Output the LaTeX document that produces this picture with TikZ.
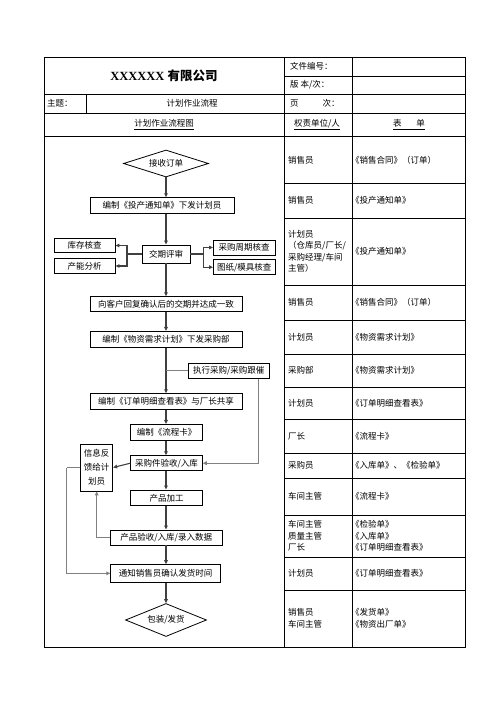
\documentclass[tikz,border=0pt]{standalone}
\usepackage{fontspec}
\setmainfont{Liberation Serif}
\newfontfamily\cjk{Noto Sans CJK SC}
\usetikzlibrary{shapes.geometric,arrows.meta}
\begin{document}
\begin{tikzpicture}[x=1pt,y=-1pt,
  tbl/.style={line width=0.9pt, draw=black},
  txt/.style={inner sep=0pt, font=\cjk\fontsize{8.5}{11.5}\selectfont, align=left},
  cell/.style={txt, anchor=west},
  fbox/.style={draw, line width=0.9pt, inner sep=0pt, font=\cjk\fontsize{8.5}{11}\selectfont, align=center},
  fdia/.style={draw, diamond, aspect=3, line width=0.8pt, inner sep=0pt, font=\cjk\fontsize{8.5}{11}\selectfont},
  tip/.style={-{Triangle[length=4pt,width=3.6pt]}},
  fline/.style={line width=1.1pt, draw=black!75},
  flow/.style={fline, tip},
  gline/.style={line width=1pt, draw=black!50},
  gflow/.style={gline, tip},
]
\fill[white] (0,0) rectangle (496,702);
\useasboundingbox (0,0) rectangle (496,702);

% ---- table frame ----
\draw[tbl] (44,57) rectangle (465,647);
\draw[tbl] (284,57) -- (284,647);
\draw[tbl] (352,57) -- (352,647);
\draw[tbl] (284,76) -- (465,76);
\foreach \yy in {94,113,136} \draw[tbl] (44,\yy) -- (465,\yy);
\draw[tbl] (86,94) -- (86,113);
\foreach \yy in {183,218,285,320,354,387,419,453,478,515,557,590} \draw[tbl] (284,\yy) -- (465,\yy);

% ---- header texts ----
\node[inner sep=0pt, font=\fontsize{12.5}{14}\selectfont] (title) at (164,75.5) {\textbf{XXXXXX} {\cjk\bfseries 有限公司}};
\node[cell] (h1) at (290,66.5) {文件编号：};
\node[cell] (h2) at (290,85) {版 本/次：};
\node[cell] (h3) at (290,103.5) {页\hspace{24pt}次：};
\node[cell] (h4) at (47,103.5) {主题：};
\node[txt] (h5) at (192,103.5) {计划作业流程};
\node[txt] (h6) at (164,124.5) {\underline{计划作业流程图}};
\node[txt] (h7) at (317,124.5) {\underline{权责单位/人}};
\node[txt] (h8) at (409,124.5) {\underline{表\hspace{15pt}单}};

% ---- right columns ----
\node[cell] (r1a) at (288,160) {销售员};
\node[cell] (r1b) at (351,160) {《销售合同》（订单）};
\node[cell] (r2a) at (288,200.5) {销售员};
\node[cell] (r2b) at (351,200.5) {《投产通知单》};
\node[cell] (r3a) at (288,251.5) {计划员\\（仓库员/厂长/\\采购经理/车间\\主管）};
\node[cell] (r3b) at (351,251.5) {《投产通知单》};
\node[cell] (r4a) at (288,302.5) {销售员};
\node[cell] (r4b) at (351,302.5) {《销售合同》（订单）};
\node[cell] (r5a) at (288,337) {计划员};
\node[cell] (r5b) at (351,337) {《物资需求计划》};
\node[cell] (r6a) at (288,370.5) {采购部};
\node[cell] (r6b) at (351,370.5) {《物资需求计划》};
\node[cell] (r7a) at (288,403) {计划员};
\node[cell] (r7b) at (351,403) {《订单明细查看表》};
\node[cell] (r8a) at (288,436) {厂长};
\node[cell] (r8b) at (351,436) {《流程卡》};
\node[cell] (r9a) at (288,465.5) {采购员};
\node[cell] (r9b) at (351,465.5) {《入库单》、《检验单》};
\node[cell] (r10a) at (288,496.5) {车间主管};
\node[cell] (r10b) at (351,496.5) {《流程卡》};
\node[cell] (r11a) at (288,536) {车间主管\\质量主管\\厂长};
\node[cell] (r11b) at (351,536) {《检验单》\\《入库单》\\《订单明细查看表》};
\node[cell] (r12a) at (288,573.5) {计划员};
\node[cell] (r12b) at (351,573.5) {《订单明细查看表》};
\node[cell] (r13a) at (288,618.5) {销售员\\车间主管};
\node[cell] (r13b) at (351,618.5) {《发货单》\\《物资出厂单》};

% ---- flowchart nodes ----
\node[fdia, minimum width=85pt, minimum height=27pt] (d1) at (166,163.5) {接收订单};
\node[fbox, minimum width=144pt, minimum height=15.6pt] (b1) at (162,205.5) {编制《投产通知单》下发计划员};
\node[fbox, minimum width=48pt, minimum height=18pt] (jq) at (166,254) {交期评审};
\node[fbox, minimum width=61pt, minimum height=14.5pt] (kc) at (84.5,245.5) {库存核查};
\node[fbox, minimum width=61pt, minimum height=14.5pt] (cn) at (84.5,266) {产能分析};
\node[fbox, minimum width=61.5pt, minimum height=15pt] (cg) at (244.2,247.5) {采购周期核查};
\node[fbox, minimum width=61.5pt, minimum height=15pt] (tz) at (244.2,267.2) {图纸/模具核查};
\node[fbox, minimum width=152pt, minimum height=15pt] (hf) at (166,304.2) {向客户回复确认后的交期并达成一致};
\node[fbox, minimum width=152pt, minimum height=16pt] (wz) at (166,339.3) {编制《物资需求计划》下发采购部};
\node[fbox, minimum width=81pt, minimum height=15pt] (zx) at (228.8,370.8) {执行采购/采购跟催};
\node[fbox, minimum width=152pt, minimum height=16pt] (dd) at (166,401.7) {编制《订单明细查看表》与厂长共享};
\node[fbox, minimum width=71.6pt, minimum height=15.7pt] (lc) at (166.5,432.2) {编制《流程卡》};
\node[fbox, minimum width=71.6pt, minimum height=15pt] (cy) at (166.5,463.2) {采购件验收/入库};
\node[fbox, minimum width=32pt, minimum height=47pt, font=\cjk\fontsize{8.5}{14}\selectfont] (xx) at (96.7,467.5) {信息反\\馈给计\\划员};
\node[fbox, minimum width=71.6pt, minimum height=15.7pt] (jg) at (166.5,497.8) {产品加工};
\node[fbox, minimum width=112.3pt, minimum height=15pt] (ys) at (166.2,537.5) {产品验收/入库/录入数据};
\node[fbox, minimum width=110pt, minimum height=17.5pt] (tx) at (165.7,573.3) {通知销售员确认发货时间};
\node[fdia, minimum width=81pt, minimum height=33pt] (d2) at (166,620) {包装/发货};

% ---- connectors ----
\coordinate (jl) at (127,254);
\coordinate (jr) at (203.3,254);
\coordinate (br) at (166,370.8);
\coordinate (xl) at (66.7,467.5);

\draw[flow] (d1.south) -- (d1.south |- b1.north);
\draw[flow] (d1.south |- b1.south) -- (jq.north);
\draw[fline] (jq.west) -- (jl);
\draw[flow] (jl) |- (kc.east);
\draw[flow] (jl) |- (cn.east);
\draw[fline] (jq.east) -- (jr);
\draw[flow] (jr) |- (cg.west);
\draw[flow] (jr) |- (tz.west);
\draw[flow] (jq.south) -- (hf.north);
\draw[flow] (hf.south) -- (wz.north);
\draw[flow] (wz.south) -- (dd.north);
\draw[gline] (br) -- (zx.west);
\draw[gflow] ([xshift=-11pt]zx.south east) |- (cy.east);
\draw[flow] (dd.south) -- (dd.south |- lc.north);
\draw[flow] (dd.south |- lc.south) -- (dd.south |- cy.north);
\draw[flow] (cy.west) -- (xx.east);
\draw[flow] (dd.south |- cy.south) -- (dd.south |- jg.north);
\draw[flow] (dd.south |- jg.south) -- (dd.south |- ys.north);
\draw[gflow] (ys.west) -| (xx.south);
\draw[flow] (dd.south |- ys.south) -- (dd.south |- tx.north);
\draw[flow] (dd.south |- tx.south) -- (d2.north);
\draw[gline] (xx.west) -- (xl);
\draw[gflow] (xl) |- (tx.west);
\end{tikzpicture}
\end{document}
